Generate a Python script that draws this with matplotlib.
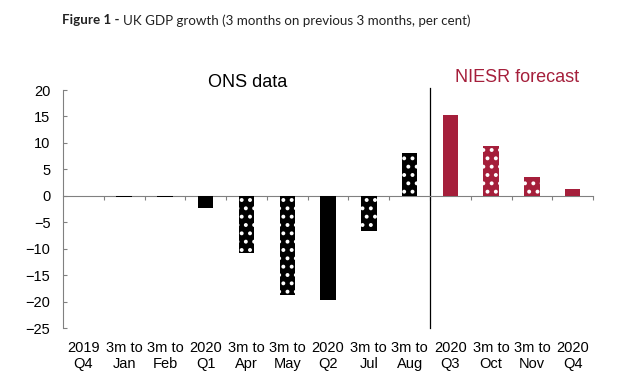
import matplotlib
matplotlib.use("Agg")
import matplotlib.pyplot as plt
import numpy as np

# Data
labels = ["2019\nQ4", "3m to\nJan", "3m to\nFeb", "2020\nQ1", "3m to\nApr",
          "3m to\nMay", "2020\nQ2", "3m to\nJul", "3m to\nAug", "2020\nQ3",
          "3m to\nOct", "3m to\nNov", "2020\nQ4"]
growth = [0.0, -0.3, -0.3, -2.3, -10.9, -18.8, -19.8, -6.7, 8.0, 15.2, 9.5, 3.6, 1.3]
period = ["Q", "M", "M", "Q", "M", "M", "Q", "M", "M", "Q", "M", "M", "Q"]
source = ["ONS"] * 9 + ["NIESR"] * 4

plt.rcParams["font.family"] = ["Liberation Sans", "DejaVu Sans"]
plt.rcParams["hatch.linewidth"] = 1.6

ons_col = "black"
niesr_col = "#a51f3b"
axis_col = "#808080"

fig = plt.figure(figsize=(6.2, 3.83), dpi=100)
ax = fig.add_axes([0.1016, 0.1436, 0.855, 0.6214])

x = np.arange(len(labels))
vals = np.array(growth)
for i in range(len(labels)):
    c = ons_col if source[i] == "ONS" else niesr_col
    if period[i] == "M":
        ax.bar(x[i], vals[i], width=0.38, color=c, edgecolor="white",
               linewidth=0, hatch="..", zorder=3)
    else:
        ax.bar(x[i], vals[i], width=0.38, color=c, linewidth=0, zorder=3)

ax.set_xlim(-0.5, len(labels) - 0.5)
ax.set_ylim(-25, 20)
ax.set_yticks(np.arange(-25, 21, 5))
ax.tick_params(axis="y", direction="in", length=3, color=axis_col,
               labelsize=10.5, pad=9)

# zero line with boundary ticks
for s in ["top", "right"]:
    ax.spines[s].set_visible(False)
ax.spines["left"].set_color(axis_col)
ax.spines["bottom"].set_position(("data", 0))
ax.spines["bottom"].set_color(axis_col)
ax.set_xticks(np.arange(0.5, len(labels), 1.0))
ax.tick_params(axis="x", direction="out", length=3, color=axis_col,
               labelbottom=False)

sec = ax.secondary_xaxis("bottom")
sec.set_xticks(x)
sec.set_xticklabels(labels)
sec.spines["bottom"].set_visible(False)
sec.tick_params(length=0, labelsize=10.5, pad=9)

# ONS / NIESR split
n_ons = source.count("ONS")
ax.plot([n_ons - 0.5, n_ons - 0.5], [-25, 20.3], color="black", lw=0.9,
        clip_on=False)
ax.text(4.04, 21.4, "ONS data", ha="center", va="center", fontsize=13)
ax.text(10.64, 22.3, "NIESR forecast", ha="center", va="center",
        fontsize=13, color=niesr_col)

# title with bold prefix
t1 = fig.text(0.1, 0.947, "Figure 1 - ", fontsize=9.6, fontweight="bold",
              family="Lato", va="center", color="#222222")
ax.annotate("UK GDP growth (3 months on previous 3 months, per cent)",
            xycoords=t1, xy=(1, 0.5), va="center", fontsize=9.6,
            family="Lato", color="#222222", annotation_clip=False)

fig.savefig("out.png", dpi=100)
